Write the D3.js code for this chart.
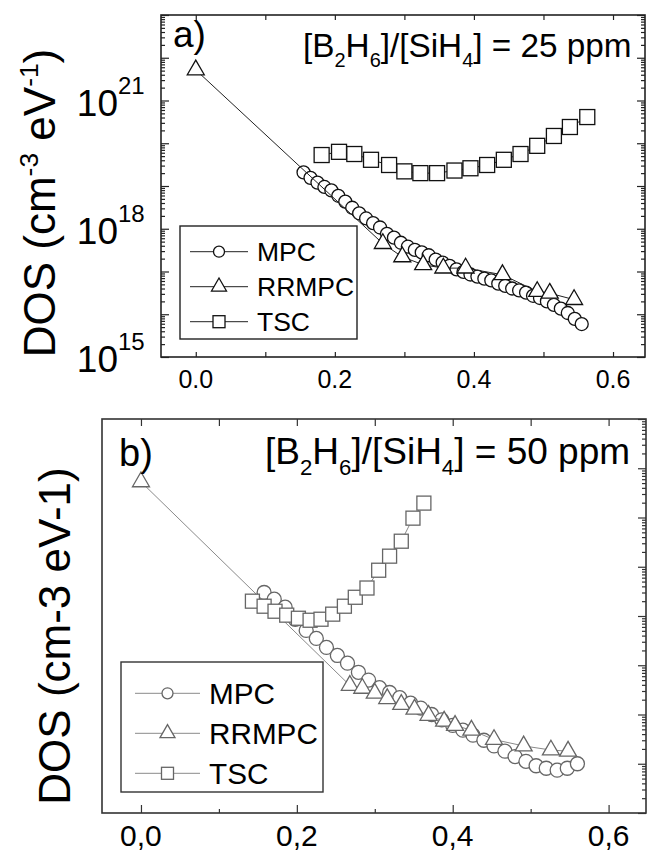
<!DOCTYPE html>
<html>
<head>
<meta charset="utf-8">
<title>DOS</title>
<style>
  body { margin: 0; background: #fff; }
  svg { display: block; font-family: "Liberation Sans", Arial, sans-serif; }
</style>
</head>
<body>
<svg id="chart" width="647" height="854"></svg>
<script src="https://d3js.org/d3.v7.min.js"></script>
<script>
  // ---------------------------------------------------------------
  // data (energy in eV, DOS in cm-3 eV-1)

  // a) 25 ppm
  const aMpcE = [0.155, 0.165, 0.175, 0.185, 0.195, 0.205, 0.215, 0.225, 0.235, 0.245,
    0.255, 0.265, 0.275, 0.285, 0.295, 0.305, 0.315, 0.325, 0.335, 0.345,
    0.355, 0.365, 0.375, 0.385, 0.395, 0.405, 0.415, 0.425, 0.435, 0.445,
    0.455, 0.465, 0.475, 0.485, 0.495, 0.505, 0.515, 0.525, 0.535, 0.545, 0.555]
  const aMpcDos = [2.08e19, 1.55e19, 1.20e19, 9.5e18, 7.9e18, 5.9e18, 4.3e18, 3.1e18, 2.3e18, 1.74e18,
    1.35e18, 1.07e18, 7.6e17, 6.2e17, 4.7e17, 3.8e17, 3.2e17, 2.8e17, 2.4e17, 1.9e17,
    1.62e17, 1.35e17, 1.12e17, 9.8e16, 8.5e16, 7.6e16, 6.8e16, 6.2e16, 5.2e16, 4.6e16,
    4.0e16, 3.6e16, 3.2e16, 2.7e16, 2.4e16, 2.0e16, 1.66e16, 1.35e16, 1.07e16, 7.8e15, 5.9e15]
  const aRrmpcE = [0, 0.269, 0.297, 0.327, 0.356, 0.388, 0.441, 0.491, 0.509, 0.544]
  const aRrmpcDos = [5.2e21, 4.5e17, 2.2e17, 1.44e17, 1.2e17, 1.2e17, 8.4e16, 3.4e16, 3.1e16, 2.2e16]
  const aTscE = [0.181, 0.206, 0.228, 0.252, 0.278, 0.300, 0.323, 0.347, 0.372, 0.395,
    0.419, 0.443, 0.467, 0.491, 0.515, 0.538, 0.563]
  const aTscDos = [5.3e19, 6.3e19, 5.6e19, 4.1e19, 3.1e19, 2.2e19, 2.0e19, 2.0e19, 2.3e19, 2.6e19,
    3.1e19, 4.1e19, 5.6e19, 8.7e19, 1.48e20, 2.4e20, 4.1e20]

  // b) 50 ppm
  const bMpcE = [0.158, 0.171, 0.185, 0.198, 0.212, 0.225, 0.238, 0.252, 0.265, 0.279,
    0.292, 0.306, 0.319, 0.332, 0.346, 0.359, 0.373, 0.386, 0.400, 0.413,
    0.426, 0.440, 0.453, 0.467, 0.480, 0.494, 0.507, 0.520, 0.534, 0.547, 0.560]
  const bMpcDos = [3.0e19, 2.2e19, 1.51e19, 8.6e18, 5.1e18, 3.5e18, 2.3e18, 1.58e18, 1.10e18, 7.2e17,
    5.0e17, 3.5e17, 2.8e17, 2.2e17, 1.7e17, 1.35e17, 1.0e17, 7.8e16, 6.0e16, 4.8e16,
    3.8e16, 3.0e16, 2.3e16, 1.8e16, 1.4e16, 1.12e16, 9.1e15, 8.1e15, 7.4e15, 8.1e15, 1.0e16]
  const bRrmpcE = [0, 0.268, 0.284, 0.300, 0.316, 0.334, 0.351, 0.369, 0.389, 0.403,
    0.424, 0.453, 0.491, 0.526, 0.548]
  const bRrmpcDos = [5.3e21, 3.9e17, 3.4e17, 2.7e17, 2.1e17, 1.6e17, 1.28e17, 9.6e16, 7.3e16, 6.0e16,
    4.8e16, 3.1e16, 2.3e16, 1.9e16, 1.8e16]
  const bTscE = [0.143, 0.158, 0.172, 0.187, 0.202, 0.217, 0.231, 0.246, 0.261, 0.275,
    0.290, 0.305, 0.319, 0.334, 0.349, 0.363]
  const bTscDos = [2.0e19, 1.58e19, 1.25e19, 1.04e19, 9.0e18, 8.2e18, 8.6e18, 1.09e19, 1.58e19, 2.4e19,
    3.7e19, 8.5e19, 1.64e20, 3.3e20, 9.7e20, 1.96e21]

  // ticks and labels
  const xTicks = [0, 0.1, 0.2, 0.3, 0.4, 0.5, 0.6]
  const xLabelValues = [0, 0.2, 0.4, 0.6]
  const aXLabels = ['0.0', '0.2', '0.4', '0.6']
  const bXLabels = ['0,0', '0,2', '0,4', '0,6']
  const yLabelExps = [15, 18, 21]
  const seriesNames = ['MPC', 'RRMPC', 'TSC']

  // ---------------------------------------------------------------

  const svg = d3.select('#chart')

  // log ticks: decades and 2..9 in between
  const decades = d3.range(15, 24).map(e => Math.pow(10, e))
  const minors = []
  d3.range(15, 23).forEach(e => d3.range(2, 10).forEach(m => minors.push(m * Math.pow(10, e))))

  function zip(E, D) {
    return E.map((e, i) => ({ e: e, v: D[i] }))
  }

  function tickAxis(g, axis, tx, ty, color) {
    g.append('g')
      .attr('transform', `translate(${tx},${ty})`)
      .call(axis)
      .call(s => s.select('.domain').remove())
      .call(s => s.selectAll('line').attr('stroke', color).attr('stroke-width', 1.2))
  }

  // draw one marker at 0,0 inside a group
  function marker(sel, kind, size, stroke, sw) {
    if (kind === 'circle') {
      sel.append('circle').attr('r', size / 2)
    } else if (kind === 'triangle') {
      sel.append('path').attr('d', d3.symbol(d3.symbolTriangle, size * size * Math.sqrt(3) / 4)())
    } else {
      sel.append('rect').attr('x', -size / 2).attr('y', -size / 2).attr('width', size).attr('height', size)
    }
    sel.selectAll('circle,path,rect')
      .attr('fill', '#fff').attr('stroke', stroke).attr('stroke-width', sw)
  }

  function drawPanel(p) {
    const g = svg.append('g')
    const x = d3.scaleLinear().domain(p.xDomain).range([p.left, p.right])
    const y = d3.scaleLog().domain([1e15, 1e23]).range([p.bottom, p.top])

    // series: line then markers
    p.series.forEach(s => {
      const pts = zip(s.E, s.D)
      g.append('path').datum(pts)
        .attr('d', d3.line().x(d => x(d.e)).y(d => y(d.v)))
        .attr('fill', 'none').attr('stroke', p.lineColor).attr('stroke-width', 1)
      g.selectAll(null).data(pts).enter().append('g')
        .attr('transform', d => `translate(${x(d.e)},${y(d.v)})`)
        .each(function () { marker(d3.select(this), s.kind, s.size, p.markColor, p.markWidth) })
    })

    // x ticks, bottom and top, pointing inward
    tickAxis(g, d3.axisBottom(x).tickValues(p.xMajor).tickSize(-p.xMajorLen).tickFormat(''), 0, p.bottom, p.frameColor)
    if (p.xMinor.length) {
      tickAxis(g, d3.axisBottom(x).tickValues(p.xMinor).tickSize(-p.xMinorLen).tickFormat(''), 0, p.bottom, p.frameColor)
    }
    tickAxis(g, d3.axisTop(x).tickValues(xTicks).tickSize(-p.xTopLen).tickFormat(''), 0, p.top, p.frameColor)

    // y ticks
    if (p.leftTicks) {
      tickAxis(g, d3.axisLeft(y).tickValues(decades).tickSize(-8).tickFormat(''), p.left, 0, p.frameColor)
      tickAxis(g, d3.axisLeft(y).tickValues(minors).tickSize(-4).tickFormat(''), p.left, 0, p.frameColor)
    }
    tickAxis(g, d3.axisRight(y).tickValues(decades).tickSize(-8).tickFormat(''), p.right, 0, p.frameColor)
    tickAxis(g, d3.axisRight(y).tickValues(minors).tickSize(-4).tickFormat(''), p.right, 0, p.frameColor)

    // frame
    g.append('rect')
      .attr('x', p.left).attr('y', p.top)
      .attr('width', p.right - p.left).attr('height', p.bottom - p.top)
      .attr('fill', 'none').attr('stroke', p.frameColor).attr('stroke-width', 1.6)

    // x tick labels
    g.selectAll(null).data(xLabelValues).enter().append('text')
      .attr('x', d => x(d)).attr('y', p.xLabelY)
      .attr('text-anchor', 'middle').attr('font-size', p.xLabelSize)
      .text((d, i) => p.xLabels[i])

    // y tick labels 10^n
    if (p.yLabels) {
      g.selectAll(null).data(yLabelExps).enter().append('text')
        .attr('x', 118).attr('y', d => y(Math.pow(10, d)) + 15)
        .attr('font-size', 37).attr('text-anchor', 'end')
        .text('10')
      g.selectAll(null).data(yLabelExps).enter().append('text')
        .attr('x', 118).attr('y', d => y(Math.pow(10, d)) - 7)
        .attr('font-size', 24)
        .text(d => d)
    }

    // y title
    const yt = g.append('text')
      .attr('transform', `translate(${p.yTitleX},${p.yTitleY}) rotate(-90)`)
      .attr('text-anchor', 'middle').attr('font-size', p.yTitleSize)
    if (p.supTitle) {
      const ss = p.yTitleSize * 0.6
      yt.append('tspan').text('DOS (cm')
      yt.append('tspan').attr('dy', -17).attr('font-size', ss).text('-3')
      yt.append('tspan').attr('dy', 17).text(' eV')
      yt.append('tspan').attr('dy', -17).attr('font-size', ss).text('-1')
      yt.append('tspan').attr('dy', 17).text(')')
    } else {
      yt.text('DOS (cm-3 eV-1)')
    }

    // panel letter
    g.append('text').attr('x', p.letterX).attr('y', p.letterY)
      .attr('font-size', p.letterSize).text(p.letter)

    // composition label with subscripts
    const fs = p.compSize, sub = fs * 0.6, sh = fs * 0.3
    const c = g.append('text').attr('x', p.compX).attr('y', p.compY).attr('font-size', fs)
    c.append('tspan').text('[B')
    c.append('tspan').attr('dy', sh).attr('font-size', sub).text('2')
    c.append('tspan').attr('dy', -sh).text('H')
    c.append('tspan').attr('dy', sh).attr('font-size', sub).text('6')
    c.append('tspan').attr('dy', -sh).text(']/[SiH')
    c.append('tspan').attr('dy', sh).attr('font-size', sub).text('4')
    c.append('tspan').attr('dy', -sh).text('] = ' + p.ppm + ' ppm')

    // legend
    const L = p.legend
    g.append('rect').attr('x', L.x0).attr('y', L.y0)
      .attr('width', L.x1 - L.x0).attr('height', L.y1 - L.y0)
      .attr('fill', '#fff').attr('stroke', p.frameColor).attr('stroke-width', 1.4)
    p.series.forEach((s, i) => {
      const cy = L.rows[i]
      g.append('line').attr('x1', L.lx0).attr('x2', L.lx1).attr('y1', cy).attr('y2', cy)
        .attr('stroke', p.lineColor).attr('stroke-width', 1)
      const m = g.append('g').attr('transform', `translate(${(L.lx0 + L.lx1) / 2},${cy})`)
      marker(m, s.kind, L.msize[i], p.markColor, p.markWidth)
      g.append('text').attr('x', L.tx).attr('y', cy + L.size * 0.36)
        .attr('font-size', L.size).text(seriesNames[i])
    })
  }

  drawPanel({
    left: 161, right: 645, top: 15, bottom: 357,
    xDomain: [-0.05, 0.646],
    xMajor: xTicks, xMinor: [], xMajorLen: 5, xTopLen: 5,
    xLabels: aXLabels, xLabelY: 388, xLabelSize: 25,
    leftTicks: true, yLabels: true,
    yTitleX: 55, yTitleY: 203, yTitleSize: 44, supTitle: true,
    letter: 'a)', letterX: 173, letterY: 47, letterSize: 37,
    compX: 303, compY: 57, compSize: 33.3, ppm: 25,
    frameColor: '#222', lineColor: '#222', markColor: '#111', markWidth: 1.3,
    series: [
      { E: aMpcE, D: aMpcDos, kind: 'circle', size: 13 },
      { E: aRrmpcE, D: aRrmpcDos, kind: 'triangle', size: 17 },
      { E: aTscE, D: aTscDos, kind: 'square', size: 15 }
    ],
    legend: {
      x0: 180, y0: 226, x1: 357, y1: 339, rows: [251.7, 286.7, 321.7],
      lx0: 190, lx1: 248, tx: 257, size: 26.5, msize: [11, 15, 12]
    }
  })

  drawPanel({
    left: 102, right: 646, top: 419, bottom: 813,
    xDomain: [-0.05, 0.648],
    xMajor: [0, 0.2, 0.4, 0.6], xMinor: [0.1, 0.3, 0.5], xMajorLen: 8, xMinorLen: 4, xTopLen: 7,
    xLabels: bXLabels, xLabelY: 846, xLabelSize: 30,
    leftTicks: false, yLabels: false,
    yTitleX: 70, yTitleY: 636, yTitleSize: 44, supTitle: false,
    letter: 'b)', letterX: 119, letterY: 466, letterSize: 38,
    compX: 265, compY: 464, compSize: 37, ppm: 50,
    frameColor: '#333', lineColor: '#8a8a8a', markColor: '#666', markWidth: 1.3,
    series: [
      { E: bMpcE, D: bMpcDos, kind: 'circle', size: 14 },
      { E: bRrmpcE, D: bRrmpcDos, kind: 'triangle', size: 17 },
      { E: bTscE, D: bTscDos, kind: 'square', size: 14 }
    ],
    legend: {
      x0: 121, y0: 662, x1: 323, y1: 792, rows: [693.3, 733.3, 773.3],
      lx0: 135, lx1: 200, tx: 209, size: 29.7, msize: [11, 15, 12]
    }
  })
</script>
</body>
</html>
